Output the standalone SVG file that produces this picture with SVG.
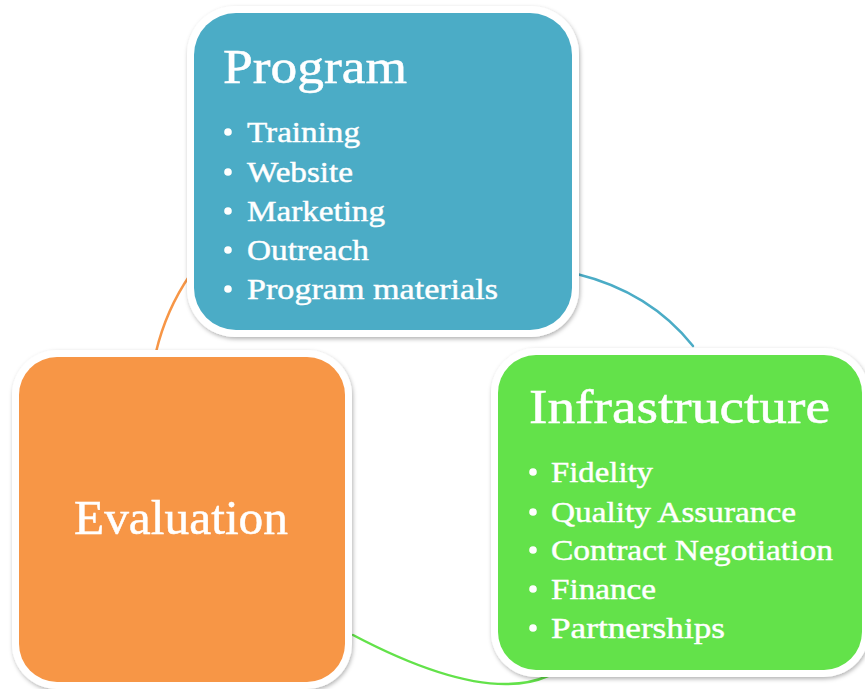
<svg xmlns="http://www.w3.org/2000/svg" width="865" height="689" viewBox="0 0 865 689">
  <defs>
    <filter id="soft" x="-10%" y="-10%" width="120%" height="120%">
      <feDropShadow dx="1" dy="2" stdDeviation="2" flood-color="#000" flood-opacity="0.3"/>
    </filter>
  </defs>
  <style>
    .frame { fill: #ffffff; filter: url(#soft); }
    .title { font-family: "Liberation Serif", serif; font-size: 48px; fill: #ffffff; stroke: #ffffff; stroke-width: 0.5; }
    .item { font-family: "Liberation Serif", serif; font-size: 30px; fill: #ffffff; stroke: #ffffff; stroke-width: 0.45; }
    .dot { fill: #ffffff; }
    .link { fill: none; stroke-width: 2.5; stroke-linecap: round; }
  </style>

  <rect width="865" height="689" fill="#ffffff"/>

  <!-- cycle arcs between the three blocks -->
  <g id="connectors">
    <path class="link" stroke="#4BACC6" d="M577,274 Q650,292 693,346"/>
    <path class="link" stroke="#63E24A" d="M353,635 Q484,704 548,676"/>
    <path class="link" stroke="#F79646" d="M190,275 Q166,310 156,352"/>
  </g>

  <g id="program">
    <rect class="frame" x="187" y="6" width="392" height="331" rx="48"/>
    <rect x="194" y="13" width="378" height="317" rx="42" fill="#4BACC6"/>
    <text class="title" x="223" y="83" textLength="184" lengthAdjust="spacingAndGlyphs">Program</text>
    <circle class="dot" cx="228" cy="132" r="3.8"/>
    <text class="item" x="247" y="142" textLength="113" lengthAdjust="spacingAndGlyphs">Training</text>
    <circle class="dot" cx="228" cy="172" r="3.8"/>
    <text class="item" x="247" y="182" textLength="106" lengthAdjust="spacingAndGlyphs">Website</text>
    <circle class="dot" cx="228" cy="211" r="3.8"/>
    <text class="item" x="247" y="221" textLength="138" lengthAdjust="spacingAndGlyphs">Marketing</text>
    <circle class="dot" cx="228" cy="250" r="3.8"/>
    <text class="item" x="247" y="260" textLength="122" lengthAdjust="spacingAndGlyphs">Outreach</text>
    <circle class="dot" cx="228" cy="289" r="3.8"/>
    <text class="item" x="247" y="299" textLength="251" lengthAdjust="spacingAndGlyphs">Program materials</text>
  </g>

  <g id="infrastructure">
    <rect class="frame" x="491" y="348" width="378" height="329" rx="45"/>
    <rect x="498" y="355" width="364" height="315" rx="38" fill="#63E24A"/>
    <text class="title" x="529" y="423" textLength="301" lengthAdjust="spacingAndGlyphs">Infrastructure</text>
    <circle class="dot" cx="533" cy="472" r="3.8"/>
    <text class="item" x="551" y="482" textLength="102" lengthAdjust="spacingAndGlyphs">Fidelity</text>
    <circle class="dot" cx="533" cy="512" r="3.8"/>
    <text class="item" x="551" y="522" textLength="245" lengthAdjust="spacingAndGlyphs">Quality Assurance</text>
    <circle class="dot" cx="533" cy="550" r="3.8"/>
    <text class="item" x="551" y="560" textLength="282" lengthAdjust="spacingAndGlyphs">Contract Negotiation</text>
    <circle class="dot" cx="533" cy="589" r="3.8"/>
    <text class="item" x="551" y="599" textLength="105" lengthAdjust="spacingAndGlyphs">Finance</text>
    <circle class="dot" cx="533" cy="628" r="3.8"/>
    <text class="item" x="551" y="638" textLength="174" lengthAdjust="spacingAndGlyphs">Partnerships</text>
  </g>

  <g id="evaluation">
    <rect class="frame" x="12" y="350" width="340" height="339" rx="45"/>
    <rect x="19" y="357" width="326" height="325" rx="38" fill="#F79646"/>
    <text class="title" x="74" y="534" textLength="214" lengthAdjust="spacingAndGlyphs">Evaluation</text>
  </g>
</svg>
